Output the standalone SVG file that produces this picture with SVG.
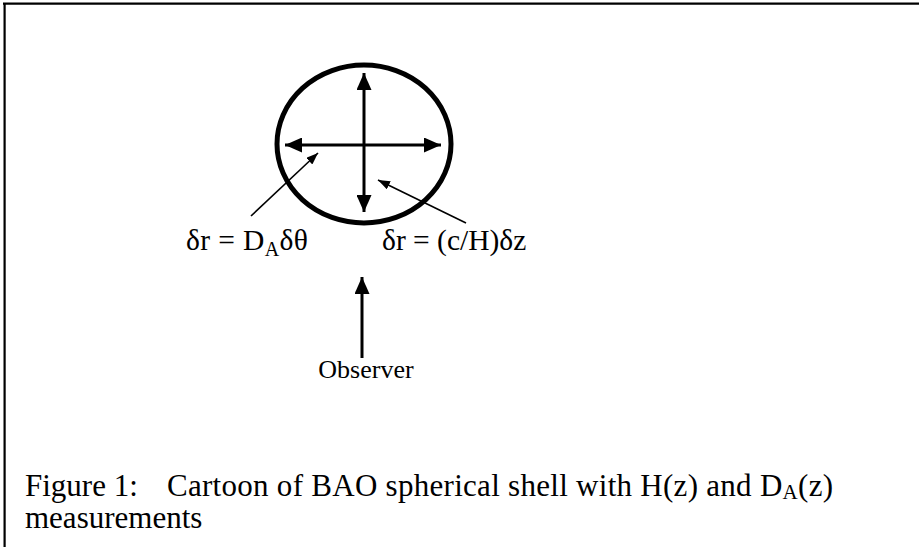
<svg xmlns="http://www.w3.org/2000/svg" width="919" height="547" viewBox="0 0 919 547">
<style>
.t{font-family:"Liberation Serif","Times New Roman",serif;fill:#000}
.lbl{font-size:29.5px}
.cap{font-size:31px}
.big{stroke:#000;stroke-width:3;fill:none}
.thin{stroke:#000;stroke-width:1.6;fill:none}
</style>
<defs>
<marker id="ah" viewBox="0 0 17 15" refX="17" refY="7.5" markerWidth="17" markerHeight="15" markerUnits="userSpaceOnUse" orient="auto-start-reverse">
<path d="M0,0 L17,7.5 L0,15 z" fill="#000"/>
</marker>
<marker id="ahs" viewBox="0 0 12 9" refX="12" refY="4.5" markerWidth="12" markerHeight="9" markerUnits="userSpaceOnUse" orient="auto">
<path d="M0,0 L12,4.5 L0,9 z" fill="#000"/>
</marker>
</defs>
<rect width="919" height="547" fill="#fff"/>
<g id="frame" stroke="#000" stroke-width="2.2" fill="none">
<line x1="3" y1="3.6" x2="919" y2="3.6"/>
<line x1="4.6" y1="3" x2="4.6" y2="547"/>
</g>
<g id="shell">
<ellipse cx="364" cy="144" rx="87" ry="79" fill="none" stroke="#000" stroke-width="5"/>
</g>
<g id="connectors">
<line class="big" x1="364" y1="73" x2="364" y2="212" marker-start="url(#ah)" marker-end="url(#ah)"/>
<line class="big" x1="285" y1="145" x2="441" y2="145" marker-start="url(#ah)" marker-end="url(#ah)"/>
<line class="thin" x1="251" y1="216" x2="318" y2="153" marker-end="url(#ahs)"/>
<line class="thin" x1="466" y1="223" x2="378" y2="180" marker-end="url(#ahs)"/>
<line class="big" x1="362" y1="358" x2="362" y2="277" marker-end="url(#ah)"/>
</g>
<g id="label-da">
<text class="t lbl" x="186" y="250" textLength="122">δr = D<tspan font-size="20" dy="6">A</tspan><tspan dy="-6">δθ</tspan></text>
</g>
<g id="label-h">
<text class="t lbl" x="382" y="250">δr = (c/H)δz</text>
</g>
<g id="observer">
<text class="t" font-size="26" x="366" y="378" text-anchor="middle">Observer</text>
</g>
<g id="caption">
<text class="t cap" x="25" y="496">Figure 1:</text>
<text class="t cap" x="167" y="496" textLength="666">Cartoon of BAO spherical shell with H(z) and D<tspan font-size="21" dy="3">A</tspan><tspan dy="-3">(z)</tspan></text>
<text class="t cap" x="25" y="528">measurements</text>
</g>
</svg>
